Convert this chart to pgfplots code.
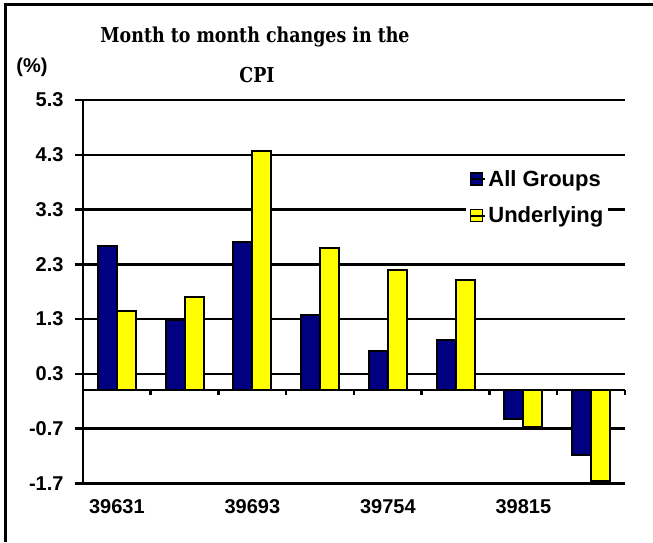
\documentclass[border=0pt]{standalone}
\usepackage{fontspec}
\setmainfont{Liberation Sans}
\newfontfamily\titlefont[FakeStretch=0.85]{DejaVu Serif}
\usepackage{pgfplots}
\pgfplotsset{compat=1.18}
\definecolor{navyb}{RGB}{0,0,128}
\definecolor{yelb}{RGB}{255,255,0}
\pgfplotsset{sqleg/.style={legend image code/.code={\draw[#1,draw=black,line width=1.5pt] (0pt,-6pt) rectangle (12pt,6pt); \path (0pt,0pt) -- (15pt,0pt);}}}
\begin{document}
\begin{tikzpicture}[x=1pt,y=1pt]
\useasboundingbox (-83,-58.7) rectangle (570,483.3);
\begin{axis}[
  at={(0,0)}, anchor=south west, scale only axis,
  width=542pt, height=383.3pt,
  ybar=0pt, bar width=19pt,
  xmin=-0.5, xmax=7.5, ymin=-1.7, ymax=5.3,
  ytick={-1.7,-0.7,0.3,1.3,2.3,3.3,4.3,5.3},
  xtick={0,2,4,6}, xticklabels={39631,39693,39754,39815},
  axis lines*=left,
  axis line style={line width=2.5pt, black},
  ymajorgrids, grid style={black, line width=2.5pt},
  tick align=outside,
  major tick length=8pt,
  x tick style={draw=none},
  y tick style={black, line width=2.5pt},
  /pgf/number format/assume math mode=true,
  yticklabel style={/pgf/number format/fixed, /pgf/number format/fixed zerofill, /pgf/number format/precision=1, xshift=-8pt},
  tick label style={font=\bfseries\fontsize{20}{22}\selectfont},
  xticklabel style={yshift=-5pt},
  legend style={at={(rel axis cs:0.707,0.83)}, anchor=north west, draw=none, fill=white,
    font=\bfseries\fontsize{22}{24}\selectfont, row sep=15pt, inner sep=3pt},
  legend cell align=left,
  clip=false,
]
\addplot[fill=navyb, draw=black, line width=2pt, sqleg] coordinates {(0,2.63) (1,1.29) (2,2.71) (3,1.38) (4,0.71) (5,0.92) (6,-0.52) (7,-1.19)};
\addplot[fill=yelb, draw=black, line width=2pt, sqleg] coordinates {(0,1.44) (1,1.71) (2,4.37) (3,2.60) (4,2.19) (5,2.02) (6,-0.68) (7,-1.65)};
\legend{All Groups, Underlying}
\draw[black, line width=2.5pt] (axis cs:-0.5,0) -- (axis cs:7.5,0);
\pgfplotsinvokeforeach{0.5,1.5,2.5,3.5,4.5,5.5,6.5,7.5}{
  \draw[black, line width=2.5pt] (axis cs:#1,0) -- ([yshift=-5pt]axis cs:#1,0);
}
\end{axis}
\draw[line width=3pt] (-77,-58.7) -- (-77,478.3) -- (570,478.3);
\node[font=\titlefont\bfseries\fontsize{20.5}{24}\selectfont] at (172,446.3) {Month to month changes in the};
\node[font=\titlefont\bfseries\fontsize{20.5}{24}\selectfont] at (174,408.3) {CPI};
\node[font=\bfseries\fontsize{20}{22}\selectfont] at (-51,416.3) {(\%)};
\end{tikzpicture}
\end{document}
